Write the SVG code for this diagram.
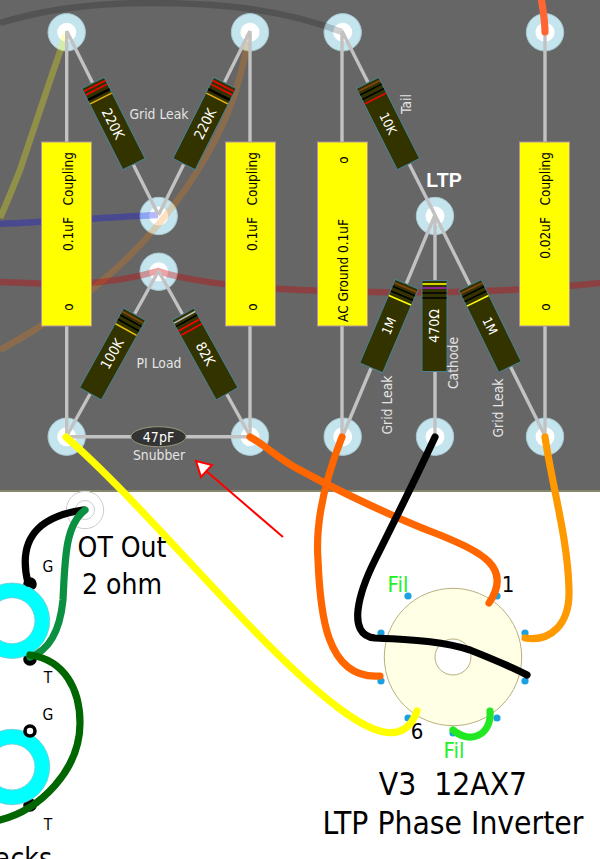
<svg xmlns="http://www.w3.org/2000/svg" width="600" height="859" viewBox="0 0 600 859">
<style>
text{font-family:"DejaVu Sans Condensed","DejaVu Sans",sans-serif;font-stretch:condensed}
.pad{fill:#c4e4ee;stroke:#a8c8d0;stroke-width:1}
.hole{fill:#fff}
.lead{fill:none;stroke:#c2c2c2;stroke-width:3.4}
.w{fill:none;stroke-width:7.2;stroke-linecap:round}
.f{fill:none;stroke-width:6.5;opacity:.28}
.cap{fill:#ff0;stroke:#b090a8;stroke-width:1}
.cap-t{font-size:13.5px;fill:#000;text-anchor:end}
.o{text-anchor:middle}
.body{fill:#333300;stroke:#4a7f90;stroke-width:1}
.b{stroke-width:1.6;fill:none}
.val{font-size:14px;fill:#fff;text-anchor:middle}
.lab{font-size:13.8px;fill:#e4e4e4;text-anchor:middle}
.pin{fill:#1ba0e0}
.big{font-size:28px;fill:#000;text-anchor:middle}
.sm{font-size:15.500px;fill:#000;text-anchor:middle}
.fil{font-size:22px;fill:#22f022;text-anchor:middle}
.num{font-size:22px;fill:#000;text-anchor:middle}
.jo{fill:#00ffff;stroke:#70c8d0;stroke-width:.8}
.ji{fill:#fff;stroke:#70c8d0;stroke-width:.8}
.lug{fill:#000;stroke:#000;stroke-width:3.6}
</style>
<rect id="board" x="0" y="0" width="600" height="491" fill="#666"/>
<rect x="0" y="490" width="600" height="2" fill="#86866a"/>

<g id="pad-1"><circle class="pad" cx="66.7" cy="32.3" r="18.7"/><circle class="hole" cx="66.7" cy="32.3" r="9.5"/></g>
<g id="pad-2"><circle class="pad" cx="250" cy="32.3" r="18.7"/><circle class="hole" cx="250" cy="32.3" r="9.5"/></g>
<g id="pad-3"><circle class="pad" cx="158.7" cy="216" r="18.7"/><circle class="hole" cx="158.7" cy="216" r="9.5"/></g>
<g id="pad-4"><circle class="pad" cx="158.7" cy="271.7" r="18.7"/><circle class="hole" cx="158.7" cy="271.7" r="9.5"/></g>
<g id="pad-5"><circle class="pad" cx="66.7" cy="436.7" r="18.7"/><circle class="hole" cx="66.7" cy="436.7" r="9.5"/></g>
<g id="pad-6"><circle class="pad" cx="250" cy="436.7" r="18.7"/><circle class="hole" cx="250" cy="436.7" r="9.5"/></g>
<g id="pad-7"><circle class="pad" cx="342.7" cy="32.3" r="18.7"/><circle class="hole" cx="342.7" cy="32.3" r="9.5"/></g>
<g id="pad-8"><circle class="pad" cx="545" cy="32.3" r="18.7"/><circle class="hole" cx="545" cy="32.3" r="9.5"/></g>
<g id="pad-9"><circle class="pad" cx="435" cy="216" r="18.7"/><circle class="hole" cx="435" cy="216" r="9.5"/></g>
<g id="pad-10"><circle class="pad" cx="342.7" cy="436.7" r="18.7"/><circle class="hole" cx="342.7" cy="436.7" r="9.5"/></g>
<g id="pad-11"><circle class="pad" cx="435" cy="436.7" r="18.7"/><circle class="hole" cx="435" cy="436.7" r="9.5"/></g>
<g id="pad-12"><circle class="pad" cx="545" cy="436.7" r="18.7"/><circle class="hole" cx="545" cy="436.7" r="9.5"/></g>

<g id="ot-out-pad"><circle cx="85" cy="510" r="18.7" fill="#fff" stroke="#ccc" stroke-width="1"/><circle cx="85" cy="510" r="9.5" fill="#fff" stroke="#ccc" stroke-width="1"/></g>
<g id="jack-1"><circle class="lug" cx="30" cy="584" r="5"/><circle class="lug" cx="30" cy="659" r="5"/><circle class="jo" cx="12" cy="620.7" r="37.7"/><circle class="ji" cx="12" cy="620.7" r="23"/></g>
<g id="jack-2"><circle class="lug" cx="30" cy="805" r="5"/><circle class="jo" cx="12" cy="767" r="37.7"/><circle class="ji" cx="12" cy="767" r="23"/><circle cx="30" cy="731" r="5" fill="#fff" stroke="#000" stroke-width="3.600"/></g>
<g id="socket">
<circle cx="453" cy="657" r="68.7" fill="#ffffe6" stroke="#b8b080" stroke-width="1"/>
<circle cx="453" cy="657" r="18" fill="#fff" stroke="#b8b080" stroke-width="1"/>
<circle class="pin" cx="408" cy="596" r="3.6"/><circle class="pin" cx="381" cy="633" r="3.6"/><circle class="pin" cx="381" cy="681" r="3.6"/><circle class="pin" cx="408" cy="718" r="3.6"/><circle class="pin" cx="453" cy="733" r="3.6"/><circle class="pin" cx="497" cy="718" r="3.6"/><circle class="pin" cx="525" cy="681" r="3.6"/><circle class="pin" cx="525" cy="633" r="3.6"/><circle class="pin" cx="497" cy="596" r="3.6"/>
</g>

<g id="connectors">
<path class="f" stroke="#000" style="opacity:.18" d="M0 23C55 6 110 3 150 3C215 3 280 8 342 32"/>
<path class="f" stroke="#ff0" d="M66 34C50 80 30 140 20 170C12 190 6 205 0 218"/>
<path class="f" stroke="#00f" d="M158 215C110 217 50 222 0 224"/>
<path class="f" stroke="#ff8000" style="opacity:.24" d="M249 34C240 90 225 130 187 187C150 240 100 295 0 350"/>
<path class="f" stroke="#c00" style="opacity:.36" d="M0 282C50 284 100 288 158 271C190 282 240 287 300 290C400 294 500 294 600 283"/>
<path class="lead" d="M66.7 31V142M66.7 326V436M66.7 31L158.5 215M250 31L158.5 215M250 31V142M250 326V436"/>
<path class="lead" d="M158.5 271L66.7 436M158.5 271L250 436M66.7 436.700H250"/>
<path class="lead" d="M342 31V142M342 326V436M342 31L435 215M545 31V142M545 326V436M435 215L342.700 436M435 215L545 436M435 215V436"/>
<path class="w" stroke="#ff6633" d="M541 -3C543 10 545 20 545 32"/>
<path class="w" stroke="#ff0" d="M66 437C150 510 260 650 340 709C375 735 405 745 417 711"/>
<path class="w" stroke="#f60" d="M342 437C325 480 315 520 318 560C320 610 325 680 380 676"/>
<path class="w" stroke="#f60" d="M250 437C265 445 280 460 300 470C340 492 400 520 440 535C475 550 515 565 489 603"/>
<path class="w" stroke="#f90" d="M545 437C553 490 568 540 569 590C570 625 550 642 525 638"/>
<path class="w" stroke="#000" d="M435 437C415 480 390 530 375 560C360 590 345 635 375 638C420 640 445 642 470 650C490 658 510 666 527 675"/>
<path class="w" stroke="#22e822" d="M453 730C470 745 492 735 490 711"/>
<path class="w" stroke="#000" d="M83 510C50 515 15 530 28 583"/>
<path class="w" stroke="#0a9040" d="M85 510C65 525 65 560 63 600C60 630 50 650 30 657"/>
<path class="w" stroke="#060" d="M30 655C65 660 80 690 80 723C80 770 40 810 0 820"/>
<path fill="none" stroke="#f00" stroke-width="2" d="M283 537L205 470"/>
<polygon points="196,461 212,465 201,477" fill="#fff" stroke="#f00" stroke-width="2"/>
</g>

<g id="c1"><rect class="cap" x="41.500" y="142" width="50" height="184"/><text class="cap-t" transform="translate(72.500,152) rotate(-90)" xml:space="preserve">0.1uF   Coupling</text><text class="cap-t o" transform="translate(72.500,307) rotate(-90)">o</text></g>
<g id="c2"><rect class="cap" x="225.500" y="142" width="50" height="184"/><text class="cap-t" transform="translate(256.500,152) rotate(-90)" xml:space="preserve">0.1uF   Coupling</text><text class="cap-t o" transform="translate(256.500,307) rotate(-90)">o</text></g>
<g id="c3"><rect class="cap" x="317.500" y="142" width="50" height="184"/><text class="cap-t" transform="translate(348,219) rotate(-90)">AC Ground 0.1uF</text><text class="cap-t o" transform="translate(348,160) rotate(-90)">o</text></g>
<g id="c4"><rect class="cap" x="519.500" y="142" width="50" height="184"/><text class="cap-t" transform="translate(550,152) rotate(-90)" xml:space="preserve">0.02uF   Coupling</text><text class="cap-t o" transform="translate(550,307) rotate(-90)">o</text></g>

<g id="r1" transform="translate(113.500,123.500) rotate(-26.700)"><rect class="body" x="-12.500" y="-45.500" width="25" height="91"/><path class="b" stroke="#f00" d="M-12 -42H12M-12 -38H12"/><path class="b" stroke="#000" d="M-12 -33H12M-12 -32H12"/><path class="b" stroke="#e8b010" d="M-12 -28H12"/><text class="val" transform="translate(-1,0) rotate(90) translate(0,4.500)">220K</text></g>
<g id="r2" transform="translate(204.500,123.500) rotate(26.700)"><rect class="body" x="-12.500" y="-45.500" width="25" height="91"/><path class="b" stroke="#f00" d="M-12 -42H12M-12 -38H12"/><path class="b" stroke="#000" d="M-12 -33H12M-12 -32H12"/><path class="b" stroke="#e8b010" d="M-12 -28H12"/><text class="val" transform="translate(1,0) rotate(-90) translate(0,4.500)">220K</text></g>
<g id="r3" transform="translate(112.500,354) rotate(29)"><rect class="body" x="-12.500" y="-45.500" width="25" height="91"/><path class="b" stroke="#8b4513" d="M-12 -42H12"/><path class="b" stroke="#000" d="M-12 -38H12M-12 -33H12"/><path class="b" stroke="#e8c010" d="M-12 -28H12"/><text class="val" transform="rotate(-90) translate(0,4.500)">100K</text></g>
<g id="r4" transform="translate(205,354) rotate(-29)"><rect class="body" x="-12.500" y="-45.500" width="25" height="91"/><path class="b" stroke="#bbb" d="M-12 -42H12"/><path class="b" stroke="#000" d="M-12 -38H12"/><path class="b" stroke="#f00" d="M-12 -33H12M-12 -28H12"/><text class="val" transform="rotate(90) translate(0,4.500)">82K</text></g>
<g id="r5" transform="translate(388,123.500) rotate(-26.700)"><rect class="body" x="-12.500" y="-45.500" width="25" height="91"/><path class="b" stroke="#8b4513" d="M-12 -42H12"/><path class="b" stroke="#000" d="M-12 -38H12M-12 -33H12"/><path class="b" stroke="#f00" d="M-12 -28H12"/><text class="val" transform="rotate(90) translate(0,4.500)" style="font-size:13px">10K</text></g>
<g id="r6" transform="translate(389,326) rotate(23)"><rect class="body" x="-12.500" y="-45.500" width="25" height="91"/><path class="b" stroke="#8b4513" d="M-12 -42H12"/><path class="b" stroke="#000" d="M-12 -38H12M-12 -33H12"/><path class="b" stroke="#ff0" d="M-12 -28H12"/><text class="val" transform="rotate(-90) translate(0,4.500)" style="font-size:13px">1M</text></g>
<g id="r7" transform="translate(434.500,326)"><rect class="body" x="-12.500" y="-45.500" width="25" height="91"/><path class="b" stroke="#ff0" d="M-12 -42H12"/><path class="b" stroke="#a020c0" d="M-12 -38H12"/><path class="b" stroke="#000" d="M-12 -33H12M-12 -28H12"/><text class="val" transform="rotate(-90) translate(0,4.500)">470Ω</text></g>
<g id="r8" transform="translate(490,326) rotate(-26)"><rect class="body" x="-12.500" y="-45.500" width="25" height="91"/><path class="b" stroke="#8b4513" d="M-12 -42H12"/><path class="b" stroke="#000" d="M-12 -38H12M-12 -33H12"/><path class="b" stroke="#ff0" d="M-12 -28H12"/><text class="val" transform="rotate(90) translate(0,4.500)" style="font-size:13px">1M</text></g>
<g id="snubber"><ellipse cx="158.500" cy="436.700" rx="27.500" ry="10" fill="#333" stroke="#99987a" stroke-width="1"/><text class="val" x="158.500" y="441.500">47pF</text></g>

<g id="labels">
<text class="lab" x="159" y="119">Grid Leak</text>
<text class="lab" x="159" y="368">PI Load</text>
<text class="lab" x="159" y="460">Snubber</text>
<text class="lab" transform="translate(411,104) rotate(-90)">Tail</text>
<text class="lab" transform="translate(392,405) rotate(-90)">Grid Leak</text>
<text class="lab" transform="translate(458,363) rotate(-90)">Cathode</text>
<text class="lab" transform="translate(503,408) rotate(-90)">Grid Leak</text>
<text x="444" y="187" text-anchor="middle" style="font-family:'Liberation Sans',sans-serif;font-stretch:normal;font-size:19.500px;font-weight:bold;fill:#fff">LTP</text>
<text class="big" x="122" y="557">OT Out</text>
<text class="big" x="122" y="594">2 ohm</text>
<text class="sm" x="48" y="572">G</text>
<text class="sm" x="48" y="683">T</text>
<text class="sm" x="48" y="720">G</text>
<text class="sm" x="48" y="830">T</text>
<text class="fil" x="398" y="592">Fil</text>
<text class="fil" x="454" y="758">Fil</text>
<text class="num" x="508" y="592">1</text>
<text class="num" x="417" y="739">6</text>
<text class="big" x="453" y="795" xml:space="preserve" style="font-size:31.500px">V3  12AX7</text>
<text class="big" x="453" y="834" style="font-size:31.500px">LTP Phase Inverter</text>
<text class="big" x="52" y="868" style="text-anchor:end">Jacks</text>
</g>
</svg>
